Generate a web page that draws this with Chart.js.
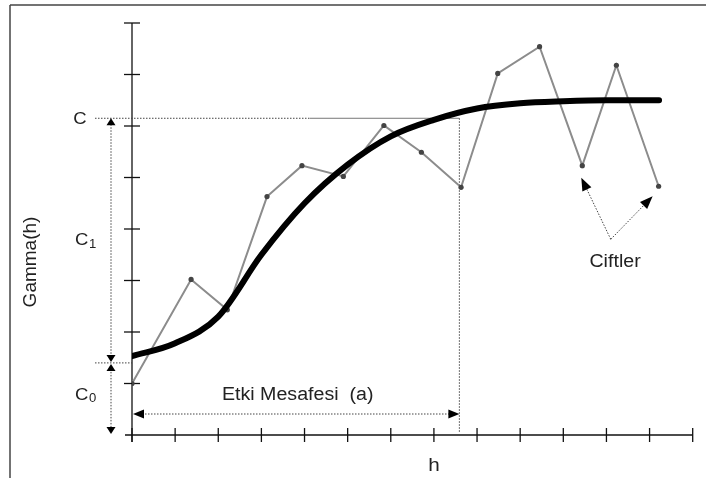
<!DOCTYPE html>
<html>
<head>
<meta charset="utf-8">
<script src="https://cdn.jsdelivr.net/npm/chart.js@4.4.1/dist/chart.umd.min.js"></script>
<style>
  html, body { margin: 0; padding: 0; background: #fff; }
  canvas { display: block; }
</style>
</head>
<body>
<canvas id="variogram" width="706" height="478"></canvas>
<script>
// tick positions on both axes
const xTicks = [0, 1, 2, 3, 4, 5, 6, 7, 8, 9, 10, 11, 12, 13];
const yTicks = [0, 1, 2, 3, 4, 5, 6, 7, 8];

// experimental semivariogram (gray zig-zag with dots)
const lagH = [0, 1.37, 2.21, 3.13, 3.94, 4.90, 5.84, 6.71, 7.63, 8.48, 9.45, 10.44, 11.23, 12.21];
const semivar = [1.0, 3.02, 2.43, 4.63, 5.23, 5.02, 6.01, 5.49, 4.81, 7.02, 7.54, 5.23, 7.18, 4.83];

// fitted model (thick black curve)
const modelH = [0, 1, 2, 3, 4, 5, 6, 7, 8, 9, 10, 11, 12.22];
const modelGamma = [1.53, 1.78, 2.3, 3.5, 4.5, 5.25, 5.8, 6.12, 6.34, 6.44, 6.48, 6.5, 6.5];

// model parameters used for the guide lines
const sill = 6.15;     // C
const nugget = 1.4;    // C0
const range = 7.59;    // a
// the two pairs pointed at by "Ciftler"
const pairIdx = [11, 13];
const pairLabel = [11.2, 3.35];
const pairOrigin = [11.1, 3.8];

const FONT = '"Liberation Sans", Arial, sans-serif';

function dotted(ctx) {
    ctx.setLineDash([1.5, 1.5]);
    ctx.lineWidth = 1;
    ctx.strokeStyle = '#444';
}

function line(ctx, x1, y1, x2, y2) {
    ctx.beginPath();
    ctx.moveTo(x1, y1);
    ctx.lineTo(x2, y2);
    ctx.stroke();
}

// filled triangle, tip at (x,y), pointing in direction ang
function head(ctx, x, y, ang, len, wid) {
    ctx.save();
    ctx.setLineDash([]);
    ctx.translate(x, y);
    ctx.rotate(ang);
    ctx.beginPath();
    ctx.moveTo(0, 0);
    ctx.lineTo(-len, -wid / 2);
    ctx.lineTo(-len, wid / 2);
    ctx.closePath();
    ctx.fillStyle = '#000';
    ctx.fill();
    ctx.restore();
}

function text(ctx, s, x, y, size, align) {
    ctx.save();
    ctx.translate(x, y);
    ctx.scale(1.09, 1);
    ctx.font = size + 'px ' + FONT;
    ctx.fillStyle = '#222';
    ctx.textAlign = align || 'center';
    ctx.textBaseline = 'middle';
    ctx.fillText(s, 0, 0);
    ctx.restore();
}

function subLabel(ctx, main, sub, x, y) {
    text(ctx, main, x, y, 17, 'left');
    text(ctx, sub, x + 14, y + 4, 12, 'left');
}

const diagram = {
    id: 'diagram',
    beforeDatasetsDraw(chart) {
        const ctx = chart.ctx;
        const xs = chart.scales.x, ys = chart.scales.y;
        const x0 = xs.getPixelForValue(0), y0 = ys.getPixelForValue(0);
        ctx.save();

        // frame
        ctx.strokeStyle = '#444';
        ctx.lineWidth = 1.5;
        line(ctx, 10, 5, 706, 5);
        line(ctx, 10, 5, 10, 478);

        // axes with ticks crossing the lines
        ctx.strokeStyle = '#111';
        ctx.lineWidth = 1.3;
        line(ctx, x0, ys.getPixelForValue(yTicks[yTicks.length - 1]), x0, y0 + 7);
        line(ctx, x0 - 7, y0, xs.getPixelForValue(xTicks[xTicks.length - 1]), y0);
        yTicks.forEach(v => {
            const py = ys.getPixelForValue(v);
            if (v > 0) line(ctx, x0 - 8, py, x0 + 8, py);
        });
        xTicks.forEach(v => {
            const px = xs.getPixelForValue(v);
            line(ctx, px, y0 - 7, px, y0 + 7);
        });

        // sill and range guides
        const sy = ys.getPixelForValue(sill);
        const ax = xs.getPixelForValue(range);
        const ny = ys.getPixelForValue(nugget);
        dotted(ctx);
        line(ctx, x0 - 37, sy, x0 + 178, sy);
        line(ctx, ax, sy, ax, y0 - 3);
        line(ctx, x0 - 37, ny, x0, ny);
        ctx.setLineDash([]);
        ctx.strokeStyle = '#777';
        line(ctx, x0 + 178, sy, ax, sy);
        ctx.restore();
    },
    afterDatasetsDraw(chart) {
        const ctx = chart.ctx;
        const xs = chart.scales.x, ys = chart.scales.y;
        const x0 = xs.getPixelForValue(0), y0 = ys.getPixelForValue(0);
        const sy = ys.getPixelForValue(sill);
        const ax = xs.getPixelForValue(range);
        const ny = ys.getPixelForValue(nugget);
        ctx.save();

        // C / C1 / C0 vertical arrows
        const vx = x0 - 21;
        dotted(ctx);
        line(ctx, vx, sy + 6, vx, ny - 7);
        line(ctx, vx, ny + 6, vx, y0 - 6);
        head(ctx, vx, sy, -Math.PI / 2, 7, 9);
        head(ctx, vx, ny - 1, Math.PI / 2, 7, 9);
        head(ctx, vx, ny + 1, -Math.PI / 2, 7, 9);
        head(ctx, vx, y0 - 1, Math.PI / 2, 7, 9);

        // range arrow
        const ry = y0 - 21;
        dotted(ctx);
        line(ctx, x0 + 10, ry, ax - 10, ry);
        head(ctx, x0 + 1, ry, Math.PI, 11, 9);
        head(ctx, ax, ry, 0, 11, 9);

        // arrows to the pairs
        const ox = xs.getPixelForValue(pairOrigin[0]);
        const oy = ys.getPixelForValue(pairOrigin[1]);
        const meta = chart.getDatasetMeta(1);
        const tips = [[-1, 12], [-6, 10]].map((d, i) => {
            const p = meta.data[pairIdx[i]];
            return [p.x + d[0], p.y + d[1]];
        });
        tips.forEach(t => {
            const ang = Math.atan2(t[1] - oy, t[0] - ox);
            dotted(ctx);
            line(ctx, ox, oy, t[0] - 10 * Math.cos(ang), t[1] - 10 * Math.sin(ang));
            head(ctx, t[0], t[1], ang, 13, 10);
        });

        // labels
        text(ctx, 'C', x0 - 52, sy + 1, 17);
        subLabel(ctx, 'C', '1', x0 - 57, ys.getPixelForValue(3.78));
        subLabel(ctx, 'C', '0', x0 - 57, ys.getPixelForValue(0.78));
        text(ctx, 'Etki Mesafesi  (a)', (x0 + ax) / 2 + 2, y0 - 40, 18);
        text(ctx, 'Ciftler', xs.getPixelForValue(pairLabel[0]), ys.getPixelForValue(pairLabel[1]), 18);
        text(ctx, 'h', xs.getPixelForValue(7), y0 + 31, 19);

        ctx.save();
        ctx.translate(31, 262);
        ctx.rotate(-Math.PI / 2);
        ctx.font = '19px ' + FONT;
        ctx.fillStyle = '#222';
        ctx.textAlign = 'center';
        ctx.textBaseline = 'middle';
        ctx.fillText('Gamma(h)', 0, 0);
        ctx.restore();

        ctx.restore();
    }
};

new Chart(document.getElementById('variogram'), {
    type: 'scatter',
    data: {
        datasets: [
            {
                label: 'Model',
                data: modelH.map((h, i) => ({ x: h, y: modelGamma[i] })),
                showLine: true,
                borderColor: '#000',
                borderWidth: 6,
                borderCapStyle: 'round',
                pointRadius: 0,
                cubicInterpolationMode: 'monotone'
            },
            {
                label: 'Ciftler',
                data: lagH.map((h, i) => ({ x: h, y: semivar[i] })),
                showLine: true,
                borderColor: '#8c8c8c',
                borderWidth: 2,
                tension: 0,
                pointRadius: 2.6,
                pointBorderWidth: 0,
                pointBackgroundColor: '#444'
            }
        ]
    },
    options: {
        responsive: false,
        animation: false,
        layout: { padding: { left: 132, right: 13.3, top: 23, bottom: 43 } },
        plugins: {
            legend: { display: false },
            tooltip: { enabled: false }
        },
        scales: {
            x: { type: 'linear', min: 0, max: 13, display: false },
            y: { type: 'linear', min: 0, max: 8, display: false }
        }
    },
    plugins: [diagram]
});
</script>
</body>
</html>
